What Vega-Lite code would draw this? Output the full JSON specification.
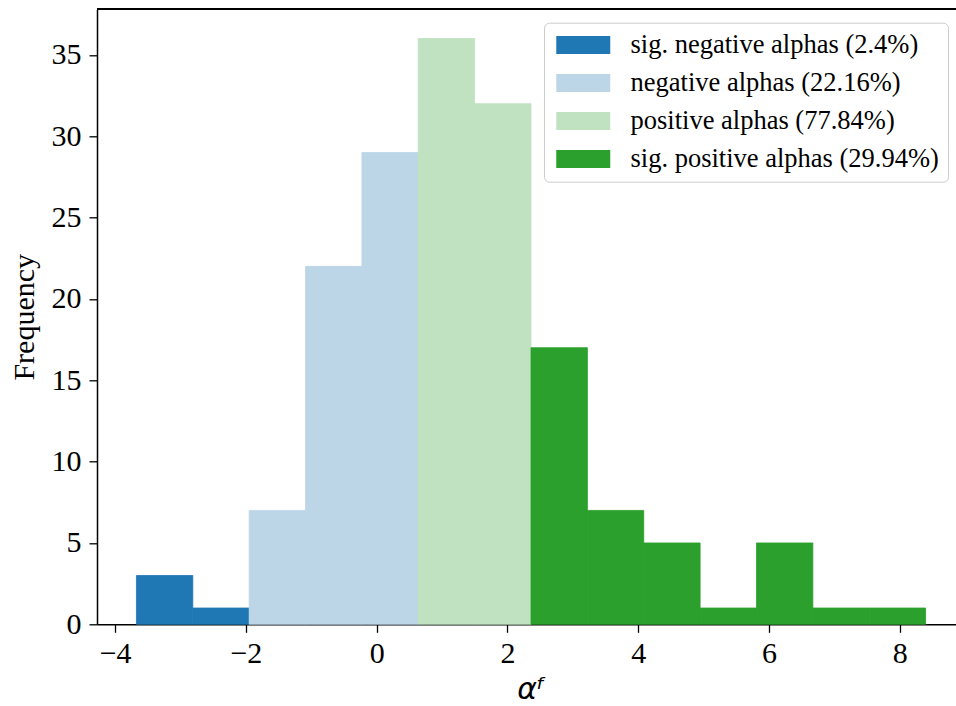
{
  "$schema": "https://vega.github.io/schema/vega-lite/v6.json",
  "autosize": "none",
  "padding": {"left": 97, "top": 9.3, "right": 0, "bottom": 81.7},
  "width": 859,
  "height": 615,
  "background": "white",
  "data": {
    "values": [
      {"bin_start": -3.674, "bin_end": -2.812, "count": 3, "group": "sig. negative alphas (2.4%)"},
      {"bin_start": -2.812, "bin_end": -1.950, "count": 1, "group": "sig. negative alphas (2.4%)"},
      {"bin_start": -1.950, "bin_end": -1.088, "count": 7, "group": "negative alphas (22.16%)"},
      {"bin_start": -1.088, "bin_end": -0.226, "count": 22, "group": "negative alphas (22.16%)"},
      {"bin_start": -0.226, "bin_end": 0.636, "count": 29, "group": "negative alphas (22.16%)"},
      {"bin_start": 0.636, "bin_end": 1.498, "count": 36, "group": "positive alphas (77.84%)"},
      {"bin_start": 1.498, "bin_end": 2.360, "count": 32, "group": "positive alphas (77.84%)"},
      {"bin_start": 2.360, "bin_end": 3.222, "count": 17, "group": "sig. positive alphas (29.94%)"},
      {"bin_start": 3.222, "bin_end": 4.084, "count": 7, "group": "sig. positive alphas (29.94%)"},
      {"bin_start": 4.084, "bin_end": 4.946, "count": 5, "group": "sig. positive alphas (29.94%)"},
      {"bin_start": 4.946, "bin_end": 5.808, "count": 1, "group": "sig. positive alphas (29.94%)"},
      {"bin_start": 5.808, "bin_end": 6.670, "count": 5, "group": "sig. positive alphas (29.94%)"},
      {"bin_start": 6.670, "bin_end": 7.532, "count": 1, "group": "sig. positive alphas (29.94%)"},
      {"bin_start": 7.532, "bin_end": 8.394, "count": 1, "group": "sig. positive alphas (29.94%)"}
    ]
  },
  "layer": [
    {
      "mark": {"type": "rect", "strokeWidth": 0.8},
      "encoding": {
        "x": {
          "field": "bin_start",
          "type": "quantitative",
          "scale": {"domain": [-4.277, 8.859], "nice": false, "zero": false},
          "axis": {
            "values": [-4, -2, 0, 2, 4, 6, 8],
            "title": "αᶠ",
            "titleFont": "DejaVu Sans",
            "titleFontStyle": "italic",
            "titleFontWeight": "normal",
            "titleFontSize": 30,
            "titleBaseline": "alphabetic",
            "titleX": 434,
            "titleY": 74,
            "labelPadding": 6
          }
        },
        "x2": {"field": "bin_end"},
        "y": {
          "field": "count",
          "type": "quantitative",
          "scale": {"domain": [0, 37.8], "nice": false},
          "axis": {
            "values": [0, 5, 10, 15, 20, 25, 30, 35],
            "title": "Frequency",
            "titleFont": "Liberation Serif",
            "titleFontWeight": "normal",
            "titleFontSize": 30,
            "titleX": -64,
            "titleBaseline": "alphabetic",
            "labelPadding": 8
          }
        },
        "y2": {"datum": 0},
        "stroke": {
          "field": "group",
          "type": "nominal",
          "scale": {
            "domain": ["sig. negative alphas (2.4%)", "negative alphas (22.16%)", "positive alphas (77.84%)", "sig. positive alphas (29.94%)"],
            "range": ["#1f77b4", "#bcd6e8", "#c0e2c0", "#2ca02c"]
          },
          "legend": null
        },
        "color": {
          "field": "group",
          "type": "nominal",
          "scale": {
            "domain": ["sig. negative alphas (2.4%)", "negative alphas (22.16%)", "positive alphas (77.84%)", "sig. positive alphas (29.94%)"],
            "range": ["#1f77b4", "#bcd6e8", "#c0e2c0", "#2ca02c"]
          },
          "legend": {
            "title": null,
            "orient": "none",
            "legendX": 447,
            "legendY": 13.4,
            "padding": 9,
            "fillColor": "white",
            "strokeColor": "#cccccc",
            "cornerRadius": 5,
            "symbolType": "M-1.11,-1H4.89V1H-1.11Z",
            "symbolSize": 324,
            "symbolStrokeWidth": 0,
            "symbolOpacity": 1,
            "labelFont": "Liberation Serif",
            "labelFontSize": 26.5,
            "labelColor": "black",
            "labelOffset": 51,
            "labelLimit": 500,
            "rowPadding": 11
          }
        }
      }
    },
    {
      "mark": {"type": "rule", "color": "black", "strokeWidth": 1.5},
      "encoding": {"y": {"datum": 37.8}}
    }
  ],
  "config": {
    "view": {"stroke": null},
    "axis": {
      "grid": false,
      "domainColor": "black",
      "domainWidth": 1.5,
      "tickColor": "black",
      "tickWidth": 1.3,
      "tickSize": 8,
      "labelFont": "Liberation Serif",
      "labelFontSize": 30,
      "labelColor": "black",
      "titleColor": "black"
    }
  }
}
